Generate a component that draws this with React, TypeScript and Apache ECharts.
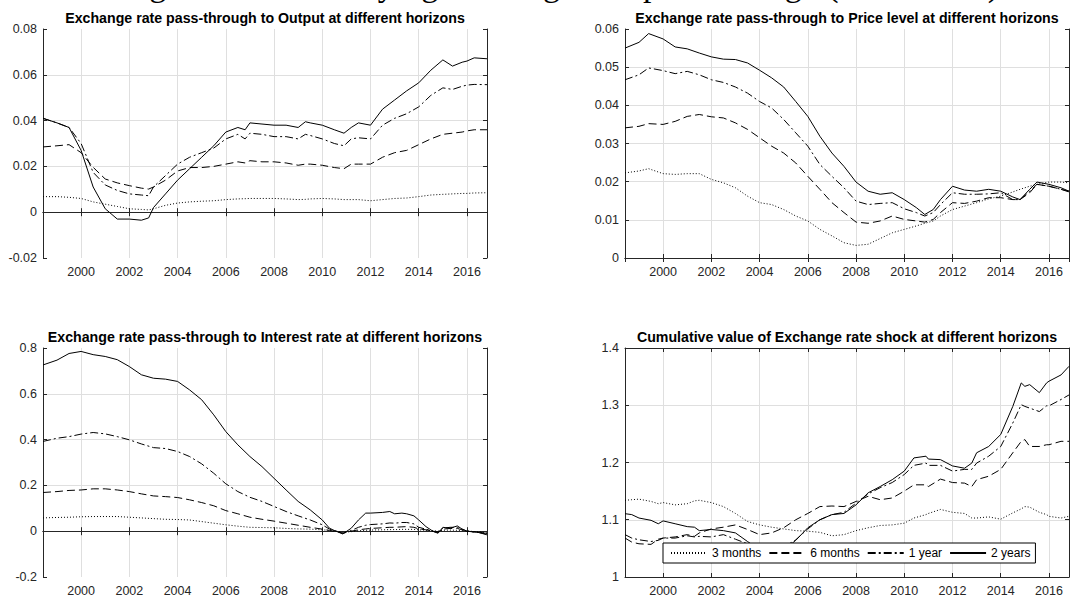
import React, { useEffect, useRef } from "react";
import * as echarts from "echarts";

// ---------- Data ----------
const SUPTITLE = "Figure 6: Time-varying exchange rate pass-through (CNY/USD)";
const SERIES_NAMES = ["3 months", "6 months", "1 year", "2 years"];
const X_MIN = 1998.42;
const X_MAX = 2016.83;

// Panel 1: Output
const TITLE_OUTPUT = "Exchange rate pass-through to Output at different horizons";
const X_OUTPUT = [1998.42, 1999.0, 1999.5, 2000.0, 2000.5, 2001.0, 2001.5, 2002.0, 2002.5, 2002.8, 2003.0, 2003.5, 2004.0, 2004.5, 2005.0, 2005.5, 2006.0, 2006.5, 2006.8, 2007.0, 2007.5, 2008.0, 2008.5, 2009.0, 2009.3, 2009.5, 2010.0, 2010.5, 2010.9, 2011.2, 2011.5, 2012.0, 2012.5, 2013.0, 2013.5, 2014.0, 2014.5, 2015.0, 2015.4, 2015.8, 2016.0, 2016.3, 2016.83];
const OUT_3M = [0.0068, 0.0068, 0.0065, 0.006, 0.0045, 0.0035, 0.0025, 0.0015, 0.0012, 0.001, 0.0015, 0.003, 0.004, 0.0045, 0.0048, 0.005, 0.0055, 0.0058, 0.0059, 0.006, 0.006, 0.006, 0.0058, 0.0055, 0.0056, 0.0058, 0.006, 0.0058, 0.0055, 0.0055, 0.0055, 0.005, 0.0055, 0.006, 0.0062, 0.0068, 0.0075, 0.0078, 0.008, 0.0082, 0.0082, 0.0084, 0.0085];
const OUT_6M = [0.0285, 0.029, 0.0295, 0.026, 0.0196, 0.0145, 0.0128, 0.0116, 0.0105, 0.0101, 0.011, 0.014, 0.018, 0.0195, 0.0195, 0.02, 0.021, 0.022, 0.0215, 0.0225, 0.022, 0.022, 0.0215, 0.0205, 0.021, 0.021, 0.0205, 0.0195, 0.019, 0.021, 0.021, 0.021, 0.024, 0.026, 0.027, 0.0295, 0.032, 0.034, 0.0345, 0.035, 0.0355, 0.036, 0.036];
const OUT_1Y = [0.041, 0.039, 0.037, 0.03, 0.0174, 0.0119, 0.0095, 0.008, 0.0075, 0.0072, 0.011, 0.016, 0.021, 0.024, 0.026, 0.028, 0.032, 0.034, 0.032, 0.0345, 0.034, 0.033, 0.033, 0.032, 0.034, 0.0335, 0.032, 0.03, 0.029, 0.032, 0.0325, 0.032, 0.038, 0.041, 0.043, 0.046, 0.051, 0.0543, 0.0536, 0.055, 0.0555, 0.0558, 0.0557];
const OUT_2Y = [0.041, 0.039, 0.037, 0.027, 0.011, 0.0015, -0.003, -0.003, -0.0035, -0.0025, 0.002, 0.008, 0.014, 0.019, 0.024, 0.029, 0.035, 0.037, 0.036, 0.039, 0.0385, 0.038, 0.038, 0.037, 0.0395, 0.039, 0.038, 0.036, 0.0345, 0.037, 0.039, 0.038, 0.045, 0.049, 0.053, 0.0565, 0.062, 0.0665, 0.0638, 0.0655, 0.066, 0.0674, 0.067];

// Panel 2: Price level
const TITLE_PRICE = "Exchange rate pass-through to Price level at different horizons";
const X_PRICE = [1998.42, 1999.0, 1999.4, 2000.0, 2000.5, 2001.0, 2001.5, 2002.0, 2002.5, 2003.0, 2003.5, 2004.0, 2004.5, 2005.0, 2005.5, 2006.0, 2006.5, 2007.0, 2007.5, 2008.0, 2008.5, 2009.0, 2009.5, 2010.0, 2010.5, 2010.85, 2011.2, 2011.5, 2012.0, 2012.5, 2013.0, 2013.5, 2014.0, 2014.5, 2014.8, 2015.2, 2015.5, 2016.0, 2016.5, 2016.83];
const PRICE_3M = [0.0223, 0.0228, 0.0234, 0.0221, 0.0219, 0.0221, 0.0221, 0.0206, 0.0197, 0.0184, 0.0162, 0.0145, 0.014, 0.0127, 0.011, 0.0097, 0.0075, 0.0058, 0.004, 0.0033, 0.0036, 0.0051, 0.0066, 0.0075, 0.0084, 0.0091, 0.0097, 0.011, 0.0127, 0.0136, 0.0145, 0.0155, 0.0162, 0.0173, 0.018, 0.0188, 0.0193, 0.0199, 0.0199, 0.0197];
const PRICE_6M = [0.0341, 0.0345, 0.0352, 0.035, 0.0358, 0.0371, 0.0376, 0.037, 0.0367, 0.0354, 0.0337, 0.0315, 0.0293, 0.0275, 0.0249, 0.0214, 0.018, 0.0145, 0.0119, 0.0094, 0.0091, 0.0097, 0.011, 0.0101, 0.0097, 0.0094, 0.0101, 0.0119, 0.0145, 0.0143, 0.0149, 0.0158, 0.0158, 0.0153, 0.0153, 0.0171, 0.0193, 0.0188, 0.018, 0.0173];
const PRICE_1Y = [0.0467, 0.048, 0.0498, 0.0491, 0.0483, 0.0489, 0.048, 0.0467, 0.046, 0.0448, 0.0432, 0.041, 0.0393, 0.0363, 0.0328, 0.0293, 0.0245, 0.0214, 0.0184, 0.0149, 0.014, 0.0143, 0.0145, 0.0129, 0.0119, 0.011, 0.0119, 0.014, 0.0171, 0.0167, 0.0167, 0.0168, 0.0171, 0.0153, 0.0153, 0.0175, 0.0193, 0.0188, 0.018, 0.0175];
const PRICE_2Y = [0.055, 0.0565, 0.0588, 0.0574, 0.0553, 0.0548, 0.0537, 0.0527, 0.0521, 0.052, 0.0511, 0.0492, 0.0472, 0.0448, 0.041, 0.0371, 0.0319, 0.0275, 0.024, 0.0199, 0.0175, 0.0167, 0.0171, 0.0153, 0.0132, 0.0114, 0.0127, 0.0153, 0.0188, 0.0178, 0.0175, 0.018, 0.0175, 0.016, 0.0153, 0.018, 0.0199, 0.0193, 0.0184, 0.0175];

// Panel 3: Interest rate
const TITLE_RATE = "Exchange rate pass-through to Interest rate at different horizons";
const X_RATE = [1998.42, 1999.0, 1999.5, 2000.0, 2000.5, 2001.0, 2001.5, 2002.0, 2002.5, 2003.0, 2003.5, 2004.0, 2004.5, 2005.0, 2005.5, 2006.0, 2006.5, 2007.0, 2007.5, 2008.0, 2008.5, 2009.0, 2009.5, 2010.0, 2010.3, 2010.5, 2010.85, 2011.2, 2011.5, 2011.8, 2012.0, 2012.5, 2012.8, 2013.0, 2013.3, 2013.5, 2013.8, 2014.0, 2014.3, 2014.6, 2014.8, 2015.0, 2015.3, 2015.6, 2015.8, 2016.0, 2016.5, 2016.83];
const RATE_3M = [0.058, 0.06, 0.061, 0.063, 0.064, 0.064, 0.064, 0.061, 0.058, 0.055, 0.052, 0.051, 0.049, 0.042, 0.035, 0.028, 0.022, 0.017, 0.016, 0.015, 0.012, 0.01, 0.009, 0.006, 0.004, 0.002, -0.005, -0.002, 0.002, 0.004, 0.005, 0.006, 0.007, 0.007, 0.008, 0.008, 0.008, 0.006, 0.004, 0.002, 0, 0.004, 0.005, 0.004, 0.003, 0.001, -0.003, -0.007];
const RATE_6M = [0.169, 0.173, 0.178, 0.18, 0.185, 0.185, 0.18, 0.173, 0.163, 0.154, 0.151, 0.147, 0.137, 0.125, 0.111, 0.09, 0.076, 0.061, 0.052, 0.044, 0.035, 0.026, 0.017, 0.009, 0.003, 0, -0.009, 0, 0.006, 0.01, 0.012, 0.015, 0.017, 0.017, 0.019, 0.02, 0.017, 0.01, 0.006, 0, -0.003, 0.009, 0.012, 0.012, 0.006, 0, -0.004, -0.01];
const RATE_1Y = [0.392, 0.406, 0.413, 0.424, 0.431, 0.425, 0.413, 0.399, 0.381, 0.365, 0.361, 0.348, 0.326, 0.294, 0.253, 0.207, 0.173, 0.148, 0.13, 0.108, 0.086, 0.067, 0.049, 0.028, 0.009, 0.003, -0.009, 0.003, 0.017, 0.026, 0.029, 0.032, 0.036, 0.035, 0.038, 0.038, 0.032, 0.017, 0.009, -0.001, -0.006, 0.013, 0.017, 0.017, 0.009, 0, -0.006, -0.013];
const RATE_2Y = [0.726, 0.747, 0.776, 0.785, 0.771, 0.763, 0.749, 0.719, 0.683, 0.668, 0.664, 0.654, 0.617, 0.574, 0.508, 0.435, 0.377, 0.326, 0.282, 0.231, 0.18, 0.13, 0.093, 0.049, 0.013, 0.003, -0.012, 0.013, 0.049, 0.079, 0.079, 0.082, 0.086, 0.076, 0.079, 0.076, 0.067, 0.049, 0.02, -0.001, -0.009, 0.017, 0.013, 0.023, 0.009, 0, -0.006, -0.016];

// Panel 4: Cumulative shock
const TITLE_CUM = "Cumulative value of Exchange rate shock at different horizons";
const X_CUM = [1998.42, 1998.7, 1999.0, 1999.5, 1999.8, 2000.0, 2000.5, 2001.0, 2001.3, 2001.5, 2002.0, 2002.5, 2003.0, 2003.5, 2004.0, 2004.5, 2005.0, 2005.5, 2006.0, 2006.5, 2007.0, 2007.5, 2008.0, 2008.5, 2009.0, 2009.5, 2010.0, 2010.4, 2010.9, 2011.0, 2011.5, 2012.0, 2012.5, 2012.8, 2013.0, 2013.5, 2014.0, 2014.5, 2014.85, 2015.0, 2015.2, 2015.6, 2015.9, 2016.0, 2016.5, 2016.83];
const CUM_3M = [1.134, 1.135, 1.136, 1.132, 1.128, 1.13, 1.126, 1.128, 1.133, 1.134, 1.13, 1.123, 1.111, 1.097, 1.091, 1.087, 1.084, 1.081, 1.08, 1.078, 1.072, 1.074, 1.081, 1.086, 1.09, 1.091, 1.094, 1.103, 1.109, 1.111, 1.118, 1.113, 1.111, 1.103, 1.103, 1.105, 1.101, 1.112, 1.119, 1.123, 1.122, 1.113, 1.109, 1.106, 1.103, 1.106];
const CUM_6M = [1.068, 1.061, 1.058, 1.057, 1.066, 1.068, 1.07, 1.074, 1.071, 1.077, 1.084, 1.087, 1.091, 1.083, 1.074, 1.077, 1.086, 1.1, 1.111, 1.123, 1.124, 1.123, 1.132, 1.141, 1.135, 1.138, 1.15, 1.161, 1.161, 1.158, 1.171, 1.165, 1.164, 1.158, 1.17, 1.176, 1.188, 1.217, 1.237, 1.24, 1.228, 1.228, 1.231, 1.231, 1.237, 1.237];
const CUM_1Y = [1.074, 1.068, 1.065, 1.062, 1.064, 1.068, 1.068, 1.072, 1.07, 1.071, 1.07, 1.074, 1.066, 1.058, 1.05, 1.05, 1.052, 1.065, 1.084, 1.1, 1.109, 1.113, 1.129, 1.145, 1.156, 1.165, 1.179, 1.195, 1.199, 1.195, 1.195, 1.185, 1.188, 1.188, 1.199, 1.211, 1.228, 1.269, 1.301, 1.298, 1.295, 1.289, 1.299, 1.299, 1.31, 1.318];
const CUM_2Y = [1.1106, 1.109, 1.103, 1.099, 1.093, 1.098, 1.093, 1.088, 1.087, 1.081, 1.083, 1.081, 1.077, 1.062, 1.048, 1.045, 1.047, 1.064, 1.086, 1.1, 1.109, 1.111, 1.126, 1.147, 1.158, 1.17, 1.185, 1.208, 1.211, 1.206, 1.205, 1.194, 1.19, 1.199, 1.217, 1.228, 1.249, 1.298, 1.339, 1.333, 1.336, 1.322, 1.339, 1.342, 1.353, 1.368];

// ---------- Styling ----------
const FONT = "'Liberation Sans', Arial, Helvetica, sans-serif";
const AXIS_COLOR = "#262626";
const GRID_COLOR = "#dfdfdf";
const DASHES: any[] = [[1, 2], [8, 4], [8, 3, 2, 3], "solid"];
// The chart canvas extends above the window so that the figure caption is cut off, as in the reference.
const OFF = 30;

const PANELS = [
  { title: TITLE_OUTPUT, x: X_OUTPUT, ys: [OUT_3M, OUT_6M, OUT_1Y, OUT_2Y], min: -0.02, max: 0.08, interval: 0.02, rect: { left: 43, top: 29 + OFF, width: 444, height: 229 } },
  { title: TITLE_PRICE, x: X_PRICE, ys: [PRICE_3M, PRICE_6M, PRICE_1Y, PRICE_2Y], min: 0, max: 0.06, interval: 0.01, rect: { left: 625, top: 29 + OFF, width: 444, height: 229 } },
  { title: TITLE_RATE, x: X_RATE, ys: [RATE_3M, RATE_6M, RATE_1Y, RATE_2Y], min: -0.2, max: 0.8, interval: 0.2, rect: { left: 43, top: 348 + OFF, width: 444, height: 229 } },
  { title: TITLE_CUM, x: X_CUM, ys: [CUM_3M, CUM_6M, CUM_1Y, CUM_2Y], min: 1, max: 1.4, interval: 0.1, rect: { left: 625, top: 348 + OFF, width: 444, height: 229 } },
];

function buildOption() {
  const grid: any[] = [];
  const xAxis: any[] = [];
  const yAxis: any[] = [];
  const series: any[] = [];
  const graphic: any[] = [];

  const axisLine = { show: true, lineStyle: { color: AXIS_COLOR, width: 1 } };
  const axisTick = { show: true, inside: true, length: 4, lineStyle: { color: AXIS_COLOR, width: 1 } };
  const label = { color: AXIS_COLOR, fontSize: 12.5, fontFamily: FONT };

  PANELS.forEach((p, i) => {
    grid.push({ ...p.rect, containLabel: false });
    const xBase = {
      type: "value", gridIndex: i, min: X_MIN, max: X_MAX,
      splitNumber: 9, minInterval: 2, maxInterval: 2,
      axisLine, axisTick,
    };
    xAxis.push({
      ...xBase, position: "bottom",
      axisLabel: {
        ...label, margin: 7, showMinLabel: false, showMaxLabel: false,
        formatter: (v: number) => String(Math.round(v)),
      },
      splitLine: { show: true, showMinLine: false, showMaxLine: false, lineStyle: { color: GRID_COLOR, width: 1 } },
    });
    xAxis.push({ ...xBase, position: "top", axisLabel: { show: false }, splitLine: { show: false } });
    const yBase = { type: "value", gridIndex: i, min: p.min, max: p.max, interval: p.interval, axisLine, axisTick };
    yAxis.push({
      ...yBase, position: "left",
      axisLabel: { ...label, margin: 6 },
      splitLine: { show: true, showMinLine: false, showMaxLine: false, lineStyle: { color: GRID_COLOR, width: 1 } },
    });
    yAxis.push({ ...yBase, position: "right", axisLabel: { show: false }, splitLine: { show: false } });

    p.ys.forEach((vals, k) => {
      series.push({
        type: "line", name: SERIES_NAMES[k],
        xAxisIndex: 2 * i, yAxisIndex: 2 * i,
        data: p.x.map((xv, j) => [xv, vals[j]]),
        showSymbol: false, symbol: "none", smooth: false,
        lineStyle: { color: "#000", width: 1, type: DASHES[k] },
        itemStyle: { color: "#000" },
        z: 2 + k,
      });
    });

    graphic.push({
      type: "text",
      x: p.rect.left + p.rect.width / 2,
      y: p.rect.top - 11,
      style: {
        text: p.title, fill: "#000",
        font: `bold 14.2px ${FONT}`,
        align: "center", verticalAlign: "middle",
        textAlign: "center", textVerticalAlign: "middle",
      },
    });
  });

  graphic.push({
    type: "text", x: 560, y: OFF + 1.5,
    style: {
      text: SUPTITLE, fill: "#000",
      font: "34px 'Liberation Serif', 'Times New Roman', serif",
      align: "center", verticalAlign: "bottom",
      textAlign: "center", textVerticalAlign: "bottom",
    },
  });

  return {
    animation: false,
    backgroundColor: "#fff",
    grid, xAxis, yAxis, series, graphic,
    legend: {
      data: SERIES_NAMES,
      left: 663, top: 543 + OFF,
      orient: "horizontal",
      selectedMode: false,
      backgroundColor: "#fff",
      borderColor: "#000", borderWidth: 1, borderRadius: 0,
      padding: [4, 5, 4, 7],
      itemWidth: 36, itemHeight: 12, itemGap: 7,
      itemStyle: { opacity: 0 },
      textStyle: { fontSize: 12, color: "#000", fontFamily: FONT },
      z: 10,
    },
  };
}

export default function App() {
  const ref = useRef<HTMLDivElement>(null);
  useEffect(() => {
    if (!ref.current) return;
    const chart = echarts.init(ref.current, undefined, { renderer: "svg" });
    chart.setOption(buildOption() as any);
    return () => chart.dispose();
  }, []);
  return (
    <div
      ref={ref}
      style={{ position: "fixed", left: 0, top: -OFF, width: 1072, height: 601 + OFF, background: "#fff" }}
    />
  );
}
